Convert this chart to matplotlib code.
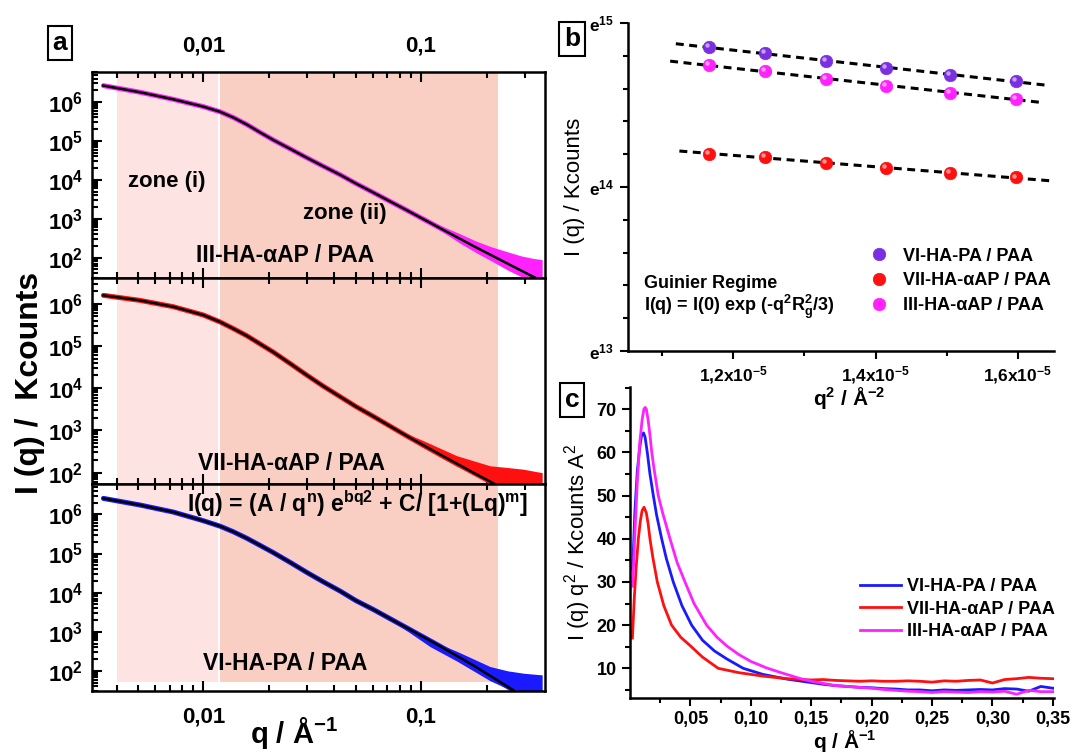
import numpy as np
import matplotlib
matplotlib.use("Agg")
import matplotlib.pyplot as plt
from matplotlib.ticker import (FixedLocator, FixedFormatter, LogLocator,
                               NullFormatter, MultipleLocator)
from matplotlib.transforms import offset_copy

plt.rcParams.update({
    "font.family": ["Liberation Sans", "DejaVu Sans"],
    "font.weight": "bold",
    "mathtext.fontset": "custom",
    "mathtext.rm": "Liberation Sans:bold",
    "mathtext.bf": "Liberation Sans:bold",
    "mathtext.it": "Liberation Sans:bold",
    "mathtext.default": "bf",
    "axes.linewidth": 1.8,
})

# ---------------- (a) SAXS curves, log-log ----------------
Q_KNOTS = [0.003475, 0.005117, 0.007278, 0.0100, 0.01194, 0.01374, 0.01585,
           0.0182, 0.0210, 0.0251, 0.02985, 0.0355, 0.04246, 0.0501, 0.0604,
           0.0859, 0.1222, 0.1738]
Q_III = Q_KNOTS + [0.2477, 0.3404]
I_III = [2.63e6, 1.78e6, 1.17e6, 7.6e5, 5.6e5, 3.98e5, 2.63e5,
         1.66e5, 1.05e5, 6.2e4, 3.7e4, 2.24e4, 1.35e4, 8.1e3, 4.7e3,
         1.66e3, 575, 200, 72, 29]
Q_VII = Q_KNOTS + [0.2307]
I_VII = [1.58e6, 1.2e6, 8.5e5, 5.4e5, 3.7e5, 2.57e5, 1.74e5,
         1.12e5, 7.1e4, 3.8e4, 2.04e4, 1.12e4, 6.3e3, 3.7e3, 2.14e3,
         741, 269, 100, 46]
Q_VI = Q_KNOTS + [0.2655]
I_VI = [2.57e6, 1.74e6, 1.15e6, 6.9e5, 5.0e5, 3.6e5, 2.45e5,
        1.62e5, 1.05e5, 5.9e4, 3.3e4, 1.9e4, 1.1e4, 6.3e3, 3.7e3,
        1.26e3, 427, 138, 32]

# scattered high-q data (envelope of the noisy points)
QB_III = [0.09, 0.12, 0.15, 0.18, 0.21, 0.25, 0.29, 0.33, 0.36]
HI_III = [1660, 708, 417, 263, 191, 141, 110, 95, 89]
LO_III = [1318, 550, 240, 132, 83, 48, 32, 30, 30]
QB_VII = [0.08, 0.10, 0.146, 0.2075, 0.25, 0.296, 0.34, 0.36]
HI_VII = [955, 603, 251, 145, 132, 120, 105, 100]
LO_VII = [851, 417, 141, 60, 54, 54, 54, 54]
QB_VI = [0.08, 0.11, 0.146, 0.2075, 0.25, 0.296, 0.34, 0.36]
HI_VI = [1700, 603, 316, 129, 100, 87, 81, 79]
LO_VI = [1400, 417, 178, 56, 35, 30, 30, 30]

ZONE_I = (0.0040, 0.0117)
ZONE_II = (0.01195, 0.2265)

# ---------------- (b) Guinier regime ----------------
Q2 = [1.165e-5, 1.245e-5, 1.330e-5, 1.415e-5, 1.505e-5, 1.597e-5]
LN_I_VI = [14.854, 14.815, 14.767, 14.726, 14.684, 14.647]
LN_I_VII = [14.202, 14.183, 14.148, 14.116, 14.083, 14.058]
LN_I_III = [14.744, 14.705, 14.659, 14.615, 14.576, 14.538]
FIT_SPAN_VI = [1.119e-5, 1.644e-5]
FIT_SPAN_VII = [1.124e-5, 1.649e-5]
FIT_SPAN_III = [1.111e-5, 1.630e-5]

# ---------------- (c) Kratky plot ----------------
TAIL_Q = [0.16, 0.17, 0.18, 0.19, 0.20, 0.21, 0.22, 0.23, 0.24, 0.25,
          0.26, 0.27, 0.28, 0.29, 0.30, 0.31, 0.32, 0.33, 0.34, 0.35]
KQ_VI = [0.0022, 0.004, 0.006, 0.008, 0.0095, 0.0112, 0.0125, 0.0143, 0.0165,
         0.0193, 0.022, 0.0262, 0.030, 0.0358, 0.043, 0.051, 0.06, 0.070, 0.08,
         0.0937, 0.11, 0.13, 0.15] + TAIL_Q
KI_VI = [33, 46, 55.5, 61, 63.8, 64.5, 63.5, 60, 55,
         50, 45.5, 40, 35.5, 30, 24.5, 20, 16.5, 14, 12.2,
         10, 8.6, 7.5, 6.7,
         6.3, 6.0, 5.8, 5.6, 5.5, 5.3, 5.2, 5.0, 5.0, 4.8,
         5.0, 4.9, 5.0, 5.1, 5.0, 5.3, 5.2, 4.7, 5.8, 5.4]
KQ_VII = [0.0020, 0.0035, 0.005, 0.0069, 0.0085, 0.0100, 0.0116, 0.0135, 0.015,
          0.0165, 0.019, 0.0226, 0.028, 0.0344, 0.042, 0.05, 0.06, 0.073, 0.09,
          0.11, 0.13, 0.15] + TAIL_Q
KI_VII = [17, 26, 33, 40, 44, 46.5, 47.3, 46, 43.5,
          40, 35.5, 30, 24.5, 20, 17.2, 15.2, 12.6, 10, 9,
          8.2, 7.6, 7.3,
          7.4, 7.2, 7.1, 7.0, 7.1, 7.0, 7.0, 7.1, 7.0, 6.8,
          7.1, 7.0, 7.2, 7.3, 6.6, 7.4, 7.6, 7.9, 7.7, 7.6]
KQ_III = [0.0022, 0.004, 0.006, 0.008, 0.010, 0.0115, 0.0125, 0.0135, 0.015,
          0.0165, 0.018, 0.020, 0.0234, 0.027, 0.0331, 0.039, 0.0455, 0.053,
          0.0634, 0.072, 0.08, 0.09, 0.10, 0.113, 0.125, 0.14, 0.15] + TAIL_Q
KI_III = [29, 41, 53, 62, 67.5, 70, 70.4, 70, 67.5,
          64, 60, 56, 50, 46, 40, 34.5, 30, 25,
          20, 17.2, 15.2, 13.2, 11.6, 10.1, 9.0, 7.7, 7.0,
          6.5, 6.0, 5.8, 5.6, 5.4, 5.1, 4.9, 4.7, 4.6, 4.4,
          4.6, 4.5, 4.4, 4.6, 4.5, 4.7, 4.0, 4.9, 4.6, 4.6]

C_VI, C_VII, C_III = "#1a1aff", "#ff1010", "#ff22ff"
C_VI_DOT = "#7b2fe0"
L_VI, L_VII, L_III = "VI-HA-PA / PAA", "VII-HA-αAP / PAA", "III-HA-αAP / PAA"

W, H = 1072, 752
fig = plt.figure(figsize=(W / 100, H / 100), dpi=100)


def px(x0, y0, x1, y1):
    """pixel box (left, top, right, bottom) -> figure rect"""
    return [x0 / W, 1 - y1 / H, (x1 - x0) / W, (y1 - y0) / H]


def ftext(x, y, s, **kw):
    fig.text(x / W, 1 - y / H, s, **kw)


# ---- panel a ----
def saxs_panel(rect, q, fit, qb, lo, hi, color, ylim, shade_from=0.0):
    ax = fig.add_axes(rect)
    ax.set_xscale("log")
    ax.set_yscale("log")
    ax.set_xlim(0.00307, 0.371)
    ax.set_ylim(*ylim)
    ax.axvspan(*ZONE_I, ymin=shade_from, color="#fde3e1", lw=0, zorder=0)
    ax.axvspan(*ZONE_II, ymin=shade_from, color="#f9cfc4", lw=0, zorder=0)
    ax.fill_between(qb, lo, hi, color=color, lw=0, zorder=2)
    ax.plot(q, fit, color=color, lw=3.6, zorder=2, solid_capstyle="round")
    ax.plot(q, fit, color="black", lw=1.8, zorder=3)
    ax.xaxis.set_major_locator(FixedLocator([0.01, 0.1]))
    ax.xaxis.set_major_formatter(FixedFormatter(["0,01", "0,1"]))
    ax.xaxis.set_minor_locator(LogLocator(base=10, subs=np.arange(2, 10), numticks=20))
    ax.xaxis.set_minor_formatter(NullFormatter())
    ax.yaxis.set_major_locator(LogLocator(base=10, numticks=20))
    ax.yaxis.set_minor_locator(LogLocator(base=10, subs=np.arange(2, 10), numticks=20))
    ax.yaxis.set_minor_formatter(NullFormatter())
    ax.tick_params(which="both", direction="in", top=True, right=False,
                   width=1.5, labelsize=16, pad=6)
    ax.tick_params(which="major", length=7)
    ax.tick_params(which="minor", length=4)
    ax.tick_params(axis="x", pad=11)
    return ax


ax1 = saxs_panel(px(91.7, 71.7, 545, 278), Q_III, I_III, QB_III, LO_III, HI_III,
                 C_III, (30, 6.0e6))
ax1.tick_params(axis="x", labeltop=True, labelbottom=False)
ax2 = saxs_panel(px(91.7, 278, 545, 484), Q_VII, I_VII, QB_VII, LO_VII, HI_VII,
                 C_VII, (53.7, 4.07e6))
ax2.tick_params(axis="x", labelbottom=False)
ax3 = saxs_panel(px(91.7, 484, 545, 691.3), Q_VI, I_VI, QB_VI, LO_VI, HI_VI,
                 C_VI, (30, 6.0e6), shade_from=0.045)

ftext(166.7, 181.7, "zone (i)", fontsize=16, ha="center", va="center")
ftext(345, 214, "zone (ii)", fontsize=16, ha="center", va="center")
ftext(285, 255, L_III, fontsize=16.5, ha="center", va="center")
ftext(291.7, 463.3, L_VII, fontsize=16.5, ha="center", va="center")
ftext(358, 503.7,
      r"I(q) = (A / q$^{\mathregular{n}}$) e$^{\mathregular{bq2}}$ + C/ [1+(Lq)$^{\mathregular{m}}$]",
      fontsize=16.5, ha="center", va="center")
ftext(285, 663.7, L_VI, fontsize=16.5, ha="center", va="center")
ftext(30, 383, "I (q) /  Kcounts", fontsize=23, rotation=90, ha="center", va="center")
ftext(294, 733, r"q / Å$^{\mathregular{-1}}$", fontsize=21, ha="center", va="center")

# ---- panel b ----
axb = fig.add_axes(px(627.5, 23, 1054, 351))
axb.set_yscale("log", base=np.e)
axb.set_ylim(np.exp(13), np.exp(15))
axb.set_xlim(1.051e-5, 1.651e-5)
hl = offset_copy(axb.transData, fig=fig, x=-1.4, y=1.4, units="points")
for ln_i, span, color, label in [(LN_I_VI, FIT_SPAN_VI, C_VI_DOT, L_VI),
                                 (LN_I_VII, FIT_SPAN_VII, C_VII, L_VII),
                                 (LN_I_III, FIT_SPAN_III, C_III, L_III)]:
    coef = np.polyfit(Q2, ln_i, 1)
    xs = np.array(span)
    axb.plot(xs, np.exp(np.polyval(coef, xs)), color="black", lw=2.2,
             dashes=(2.6, 1.8), zorder=2)
    axb.plot(Q2, np.exp(ln_i), "o", ms=9, color=color, mec=color, mew=0.5,
             zorder=3, label=label)
    axb.plot(Q2, np.exp(ln_i), "o", ms=3.2, color="white", alpha=0.55,
             mew=0, zorder=4, transform=hl)
axb.spines[["top", "right"]].set_visible(False)
axb.xaxis.set_major_locator(FixedLocator([1.2e-5, 1.4e-5, 1.6e-5]))
axb.xaxis.set_major_formatter(FixedFormatter(
    [r"1,2x10$^{\mathregular{-5}}$", r"1,4x10$^{\mathregular{-5}}$", r"1,6x10$^{\mathregular{-5}}$"]))
axb.xaxis.set_minor_locator(FixedLocator([1.1e-5, 1.3e-5, 1.5e-5]))
axb.yaxis.set_major_locator(FixedLocator(np.exp([13, 14, 15])))
axb.yaxis.set_major_formatter(FixedFormatter(
    [r"e$^{\mathregular{13}}$", r"e$^{\mathregular{14}}$", r"e$^{\mathregular{15}}$"]))
axb.yaxis.set_minor_locator(FixedLocator(np.exp(np.arange(13.2, 15.0, 0.2))))
axb.yaxis.set_minor_formatter(NullFormatter())
axb.tick_params(which="both", direction="out", width=1.5, labelsize=12.5)
axb.tick_params(which="major", length=6)
axb.tick_params(which="minor", length=3.5)
axb.set_ylabel("I (q) / Kcounts", fontsize=16, labelpad=3)
axb.legend(loc="upper left", bbox_to_anchor=(0.569, 0.315), borderaxespad=0,
           borderpad=0, frameon=False, fontsize=13, handlelength=1.0,
           handletextpad=0.8, labelspacing=0.42)
ftext(643.5, 283, "Guinier Regime", fontsize=13, ha="left", va="center")
ftext(643.5, 307, r"I(q) = I(0) exp (-q$^{\mathregular{2}}$R$_{\mathregular{g}}^{\mathregular{2}}$/3)",
      fontsize=13, ha="left", va="center")
ftext(849, 398, r"q$^{\mathregular{2}}$ / Å$^{\mathregular{-2}}$", fontsize=15,
      ha="center", va="center")

# ---- panel c ----
axc = fig.add_axes(px(630, 386.7, 1053.5, 698.3))
axc.plot(KQ_VI, KI_VI, color=C_VI, lw=2.0, label=L_VI)
axc.plot(KQ_VII, KI_VII, color=C_VII, lw=2.0, label=L_VII)
axc.plot(KQ_III, KI_III, color=C_III, lw=2.0, label=L_III)
axc.set_xlim(0.0, 0.3505)
axc.set_ylim(3.06, 75.2)
axc.spines[["top", "right"]].set_visible(False)
xt = [0.05, 0.10, 0.15, 0.20, 0.25, 0.30, 0.35]
axc.xaxis.set_major_locator(FixedLocator(xt))
axc.xaxis.set_major_formatter(FixedFormatter([f"{v:.2f}".replace(".", ",") for v in xt]))
axc.xaxis.set_minor_locator(FixedLocator([0.025, 0.075, 0.125, 0.175, 0.225, 0.275, 0.325]))
axc.yaxis.set_major_locator(FixedLocator([10, 20, 30, 40, 50, 60, 70]))
axc.yaxis.set_minor_locator(MultipleLocator(5))
axc.tick_params(which="both", direction="out", width=1.5, labelsize=13)
axc.tick_params(which="major", length=6)
axc.tick_params(which="minor", length=3.5)
axc.set_ylabel(r"I (q) q$^{\mathregular{2}}$ / Kcounts A$^{\mathregular{2}}$",
               fontsize=16, labelpad=3)
axc.legend(loc="upper left", bbox_to_anchor=(0.543, 0.385), borderaxespad=0,
           borderpad=0, frameon=False, fontsize=13, handlelength=2.3,
           handletextpad=0.3, labelspacing=0.3)
ftext(845, 741, r"q / Å$^{\mathregular{-1}}$", fontsize=15, ha="center", va="center")

# panel letters
box = dict(boxstyle="square,pad=0.18", fc="white", ec="black", lw=1.5)
ftext(60, 43, "a", fontsize=19, ha="center", va="center", bbox=box)
ftext(572, 39, "b", fontsize=19, ha="center", va="center", bbox=box)
ftext(572, 400, "c", fontsize=19, ha="center", va="center", bbox=box)

fig.savefig("out.png", dpi=100)
